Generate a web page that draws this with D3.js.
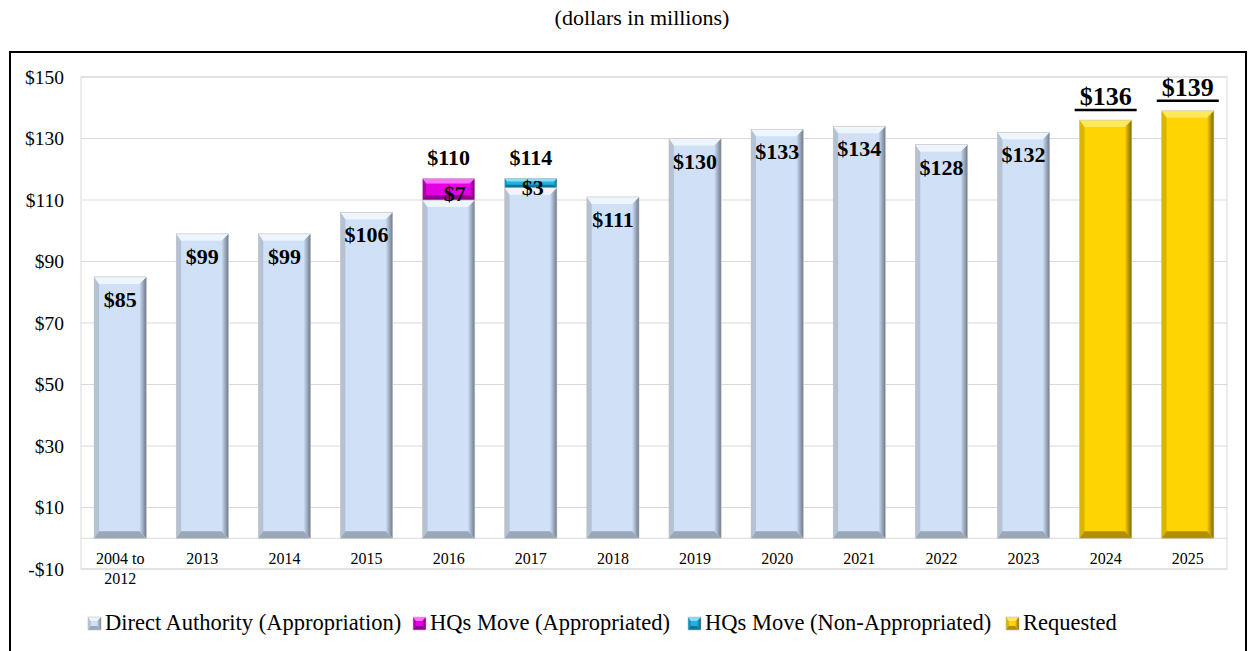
<!DOCTYPE html>
<html>
<head>
<meta charset="utf-8">
<script src="https://cdn.jsdelivr.net/npm/d3@7"></script>
<style>
  body { margin: 0; background: #fff; }
  text { font-family: "Liberation Serif", "Times New Roman", serif; }
</style>
</head>
<body>
<div id="chart"></div>
<script>
const categories = ["2004 to 2012", "2013", "2014", "2015", "2016", "2017", "2018", "2019", "2020", "2021", "2022", "2023", "2024", "2025"];
const directValues = [85, 99, 99, 106, 110, 114, 111, 130, 133, 134, 128, 132, null, null];
const hqApprop = [null, null, null, null, 7, null, null, null, null, null, null, null, null, null];
const hqNonApprop = [null, null, null, null, null, 3, null, null, null, null, null, null, null, null];
const requested = [null, null, null, null, null, null, null, null, null, null, null, null, 136, 139];
const totalLabels = [null, null, null, null, "$110", "$114", null, null, null, null, null, null, null, null];
const yTicks = [-10, 10, 30, 50, 70, 90, 110, 130, 150];
const legendItems = ["Direct Authority (Appropriation)", "HQs Move (Appropriated)", "HQs Move (Non-Appropriated)", "Requested"];

const W = 1248, H = 651;
const plot = { left: 81, right: 1227, top: 77, bottom: 569 };

const svg = d3.select("#chart").append("svg")
  .attr("width", W)
  .attr("height", H);

const palettes = {
  blue:    { face: "#cfe0f7", top: "#eef5fd", left: "#b4c2d4", right: "#6f7a89", bottom: "#9aa7b8" },
  magenta: { face: "#e400e4", top: "#ff70ff", left: "#b000b0", right: "#6a006a", bottom: "#900090" },
  cyan:    { face: "#1fb2e0", top: "#8adcf5", left: "#1590b8", right: "#0a5574", bottom: "#0d7397" },
  yellow:  { face: "#ffd400", top: "#ffe85a", left: "#dab400", right: "#7a6300", bottom: "#b09000" }
};

const x = d3.scaleBand().domain(categories).range([plot.left, plot.right]).paddingInner(0.365).paddingOuter(0.16);
const y = d3.scaleLinear().domain([-10, 150]).range([plot.bottom, plot.top]);

// gradients for right edges
const defs = svg.append("defs");
Object.entries(palettes).forEach(([k, p]) => {
  const gr = defs.append("linearGradient").attr("id", "edge-" + k).attr("x1", 0).attr("x2", 1).attr("y1", 0).attr("y2", 0);
  gr.append("stop").attr("offset", 0).attr("stop-color", p.face);
  gr.append("stop").attr("offset", 1).attr("stop-color", p.right);
});

// title
svg.append("text")
  .attr("x", 642).attr("y", 25)
  .attr("text-anchor", "middle")
  .attr("font-size", 22)
  .text("(dollars in millions)");

// outer frame
svg.append("rect")
  .attr("x", 10).attr("y", 52)
  .attr("width", 1236).attr("height", 640)
  .attr("fill", "none")
  .attr("stroke", "#000")
  .attr("stroke-width", 2);

// gridlines
svg.append("g").selectAll("line").data(yTicks).join("line")
  .attr("x1", plot.left).attr("x2", plot.right)
  .attr("y1", d => y(d)).attr("y2", d => y(d))
  .attr("stroke", "#d9d9d9").attr("stroke-width", 1);

svg.append("line")
  .attr("x1", plot.left).attr("x2", plot.right)
  .attr("y1", y(0)).attr("y2", y(0))
  .attr("stroke", "#d9d9d9");

svg.append("rect")
  .attr("x", plot.left).attr("y", plot.top)
  .attr("width", plot.right - plot.left).attr("height", plot.bottom - plot.top)
  .attr("fill", "none").attr("stroke", "#d9d9d9");

// y labels
const yAxis = d3.axisLeft(y).tickValues(yTicks).tickSize(0).tickPadding(17)
  .tickFormat(d => d < 0 ? "-$" + Math.abs(d) : "$" + d);
svg.append("g")
  .attr("transform", `translate(${plot.left},0)`)
  .call(yAxis)
  .call(g => g.select(".domain").remove())
  .call(g => g.attr("font-family", null))
  .call(g => g.selectAll("text").attr("font-size", 19.5).attr("fill", "#000"));

function bevelBlock(g, key, x0, y0, w, h, b) {
  const pal = palettes[key];
  b = Math.min(b, h / 2.2);
  const gg = g.append("g");
  gg.append("rect").attr("x", x0).attr("y", y0).attr("width", w).attr("height", h).attr("fill", pal.face);
  gg.append("polygon").attr("fill", pal.left)
    .attr("points", [[x0, y0], [x0 + b * 0.7, y0 + b], [x0 + b * 0.7, y0 + h - b], [x0, y0 + h]].join(" "));
  gg.append("polygon").attr("fill", `url(#edge-${key})`)
    .attr("points", [[x0 + w, y0], [x0 + w - b, y0 + b], [x0 + w - b, y0 + h - b], [x0 + w, y0 + h]].join(" "));
  gg.append("polygon").attr("fill", pal.top)
    .attr("points", [[x0, y0], [x0 + w, y0], [x0 + w - b, y0 + b], [x0 + b * 0.7, y0 + b]].join(" "));
  gg.append("polygon").attr("fill", pal.bottom)
    .attr("points", [[x0, y0 + h], [x0 + b * 0.7, y0 + h - b], [x0 + w - b, y0 + h - b], [x0 + w, y0 + h]].join(" "));
  gg.append("rect").attr("x", x0).attr("y", y0).attr("width", w).attr("height", h)
    .attr("fill", "none").attr("stroke", "#c0c0c0").attr("stroke-width", 0.6);
}

const bars = svg.append("g");
const labels = svg.append("g");
const bw = x.bandwidth();

function valueLabel(cx, yy, txt, size) {
  return labels.append("text").attr("x", cx).attr("y", yy)
    .attr("text-anchor", "middle").attr("font-size", size || 22).attr("font-weight", "bold")
    .text(txt);
}

categories.forEach((c, i) => {
  const x0 = x(c);
  const cx = x0 + bw / 2;
  if (directValues[i] != null) {
    const v = directValues[i];
    bevelBlock(bars, "blue", x0, y(v), bw, y(0) - y(v), 7);
    if (totalLabels[i] == null) valueLabel(cx, y(v) + 30, "$" + v);
  }
  if (hqApprop[i] != null) {
    const b0 = directValues[i], b1 = b0 + hqApprop[i];
    bevelBlock(bars, "magenta", x0, y(b1), bw, y(b0) - y(b1), 5);
    valueLabel(cx + 6, y(b0) + 1, "$" + hqApprop[i]);
  }
  if (hqNonApprop[i] != null) {
    const b0 = directValues[i], b1 = b0 + hqNonApprop[i];
    bevelBlock(bars, "cyan", x0, y(b1), bw, y(b0) - y(b1), 3);
    valueLabel(cx + 2, y(b0) + 7, "$" + hqNonApprop[i]);
  }
  if (totalLabels[i] != null) {
    const top = directValues[i] + (hqApprop[i] || 0) + (hqNonApprop[i] || 0);
    valueLabel(cx, y(top) - 13, totalLabels[i]);
  }
  if (requested[i] != null) {
    const v = requested[i];
    bevelBlock(bars, "yellow", x0, y(v), bw, y(0) - y(v), 7);
    valueLabel(cx, y(v) - 15, "$" + v, 26);
    labels.append("line")
      .attr("x1", cx - 31).attr("x2", cx + 31)
      .attr("y1", y(v) - 10).attr("y2", y(v) - 10)
      .attr("stroke", "#000").attr("stroke-width", 2.5);
  }
});

// x labels
const xl = svg.append("g");
categories.forEach(c => {
  const cx = x(c) + bw / 2;
  const t = xl.append("text").attr("x", cx).attr("y", 564)
    .attr("text-anchor", "middle").attr("font-size", 16);
  if (c === "2004 to 2012") {
    t.append("tspan").attr("x", cx).text("2004 to");
    t.append("tspan").attr("x", cx).attr("dy", 20).text("2012");
  } else {
    t.text(c);
  }
});

// legend
const legendKeys = ["blue", "magenta", "cyan", "yellow"];
const legendX = [88, 413, 688, 1006];
const lg = svg.append("g");
legendItems.forEach((name, i) => {
  bevelBlock(lg, legendKeys[i], legendX[i], 617, 13, 13, 4);
  lg.append("text").attr("x", legendX[i] + 17).attr("y", 630)
    .attr("font-size", 22.5).text(name);
});
</script>
</body>
</html>
